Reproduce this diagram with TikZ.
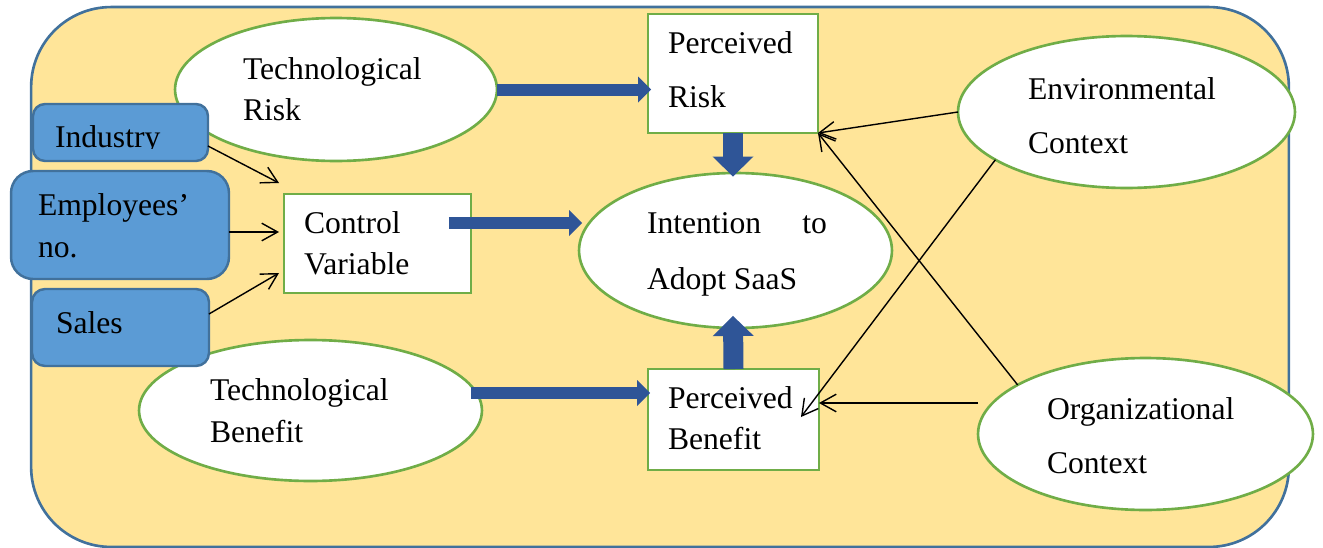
\documentclass[tikz,border=0pt]{standalone}
\usepackage{fontspec}
\setmainfont{Liberation Serif}
\usetikzlibrary{shapes.geometric,arrows.meta,calc}
\definecolor{bgfill}{HTML}{FFE599}
\definecolor{bgline}{HTML}{41719C}
\definecolor{grn}{HTML}{70AD47}
\definecolor{bbox}{HTML}{5B9BD5}
\definecolor{darr}{HTML}{2F5597}
\newcommand\twoln[3]{\vtop{\baselineskip=#1\lineskiplimit=-100pt\lineskip=0pt\hbox{#2}\hbox{#3}}}
\begin{document}
\begin{tikzpicture}[x=0.02cm,y=-0.02cm,
  font=\fontsize{18}{22}\selectfont,
  oval/.style={ellipse, draw=grn, fill=white, line width=1.5pt, inner sep=0pt, outer sep=0pt},
  wbox/.style={rectangle, draw=grn, fill=white, line width=1.5pt, inner sep=0pt, outer sep=0pt},
  bbx/.style={rectangle, draw=bgline, fill=bbox, line width=1.4pt, inner sep=0pt, outer sep=0pt},
  txt/.style={anchor=base west, inner sep=0pt, outer sep=0pt, text=black},
  thin/.style={line width=0.8pt, -{Straight Barb[length=9pt,width=10pt]}},
  hfat/.style={draw=darr, line width=0.24cm, -{Triangle[length=0.26cm,width=0.52cm,line width=0pt]}},
  vfat/.style={draw=darr, line width=0.4cm, -{Triangle[length=0.4cm,width=0.82cm,line width=0pt]}},
]
\useasboundingbox (0,0) rectangle (1323,548);
\node[rectangle, draw=bgline, fill=bgfill, line width=1.5pt, rounded corners=1.6cm,
  minimum width=25.16cm, minimum height=10.8cm, inner sep=0pt] (bg) at (660,277) {};

% ellipses
\node[oval, minimum width=6.44cm, minimum height=2.86cm] (tr) at (336,89.5) {};
\node[oval, minimum width=6.86cm, minimum height=2.82cm] (tb) at (310.5,410.5) {};
\node[oval, minimum width=6.26cm, minimum height=3.10cm] (int) at (735.5,250.5) {};
\node[oval, minimum width=6.74cm, minimum height=3.04cm] (env) at (1126.5,112) {};
\node[oval, minimum width=6.70cm, minimum height=3.04cm] (org) at (1145.5,434) {};

% white boxes
\node[wbox, minimum width=3.40cm, minimum height=2.38cm] (pr) at (733,73.5) {};
\node[wbox, minimum width=3.74cm, minimum height=1.98cm] (ctrl) at (377.5,243.5) {};
\node[wbox, minimum width=3.42cm, minimum height=2.02cm] (pb) at (733.5,419.5) {};

% blue boxes
\node[bbx, rounded corners=0.24cm, minimum width=3.50cm, minimum height=1.14cm] (ind) at (120.5,132.5) {};
\node[bbx, rounded corners=0.44cm, minimum width=4.36cm, minimum height=2.16cm] (emp) at (120,225) {};
\node[bbx, rounded corners=0.26cm, minimum width=3.54cm, minimum height=1.54cm] (sales) at (120.5,327.5) {};

% texts
\node[txt] (trT) at (243,79) {\twoln{0.83cm}{Technological}{Risk}};
\begin{scope}
\clip (32,103) rectangle (209,148.5);
\node[txt] (indT) at (55,147) {Industry};
\end{scope}
\node[txt] (empT) at (38,215) {\twoln{0.86cm}{Employees’}{no.}};
\node[txt] (salT) at (56,333) {Sales};
\node[txt] (ctrlT) at (304,233) {\twoln{0.84cm}{Control}{Variable}};
\node[txt] (prT) at (668,53) {\twoln{1.1cm}{Perceived}{Risk}};
\node[txt] (intT) at (647,233) {\twoln{1.14cm}{\hbox to 3.6cm{Intention\hfill to}}{Adopt SaaS}};
\node[txt] (pbT) at (668,408) {\twoln{0.84cm}{Perceived}{Benefit}};
\node[txt] (tbT) at (210,400) {\twoln{0.86cm}{Technological}{Benefit}};
\node[txt] (envT) at (1028,99) {\twoln{1.1cm}{Environmental}{Context}};
\node[txt] (orgT) at (1047,419) {\twoln{1.1cm}{Organizational}{Context}};

% thick arrows
\draw[hfat] (tr.east) -- ($(tr.east -| pr.west)+(3,0)$);
\draw[hfat] ($(ctrl.east)+(-22,-20.5)$) -- ($(int.west)+(3,-27.5)$);
\draw[hfat] ($(tb.east)+(-11,-17.5)$) -- ($(pb.west)+(2,-26.5)$);
\draw[vfat] (pr.south) -- ($(int.north)+(-2.5,3.5)$);
\draw[vfat] (pb.north) -- ($(int.south)+(-2.5,-12)$);

% thin arrows
\draw[thin] ($(ind.east)+(0,13.5)$) -- ($(ctrl.north west)+(-5,-11)$);
\draw[thin] ($(emp.east)+(0,7)$) -- ($(ctrl.west)+(-5,-11.5)$);
\draw[thin] ($(sales.east)+(0,-13.5)$) -- ($(ctrl.west)+(-5,29.5)$);
\draw[thin] (env.west) -- (pr.south east);
\draw[thin] (org.159) -- (pr.south east);
\draw[thin] (env.200) -- ($(pb.east)+(-18,-2.5)$);
\draw[thin] ($(org.west)+(0,-31)$) -- ($(pb.east)+(0,-16.5)$);
\end{tikzpicture}
\end{document}
